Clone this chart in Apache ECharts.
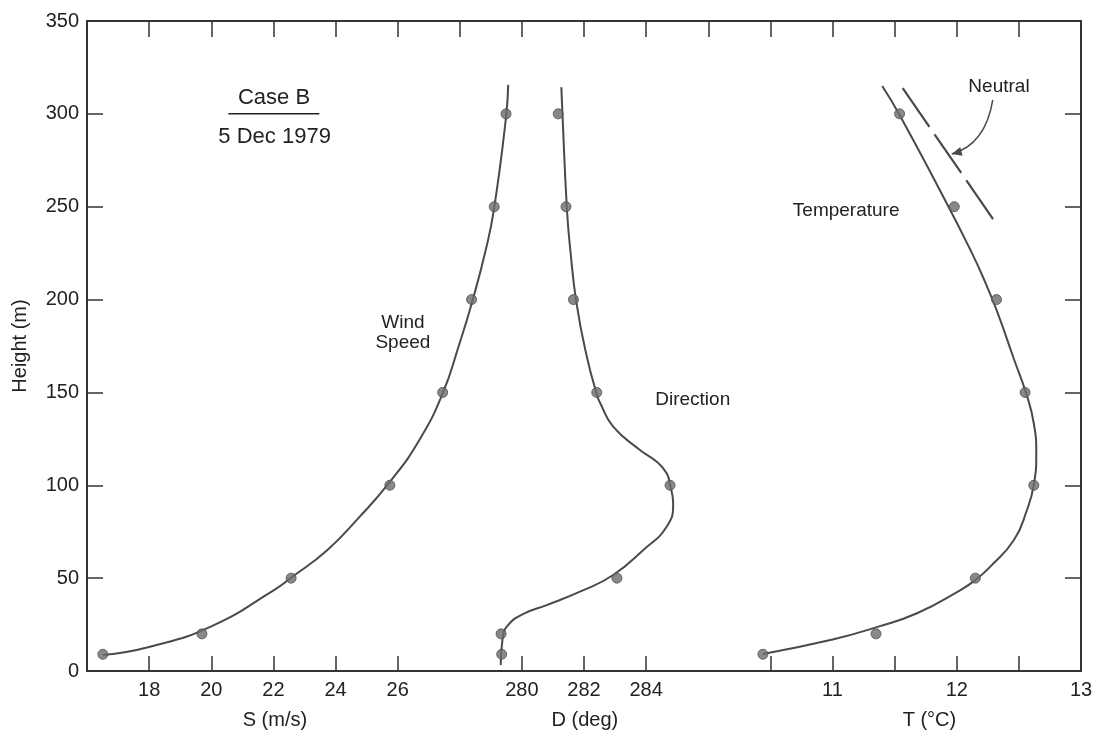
<!DOCTYPE html>
<html>
<head>
<meta charset="utf-8">
<title>Case B profiles</title>
<script src="https://cdn.jsdelivr.net/npm/echarts@6/dist/echarts.min.js"></script>
<style>
  html, body { margin: 0; padding: 0; background: #fff; }
  #chart { width: 1097px; height: 737px; }
</style>
</head>
<body>
<div id="chart"></div>
<script>
// Observation heights (m)
const heights = [9, 20, 50, 100, 150, 200, 250, 300];
// Observed wind speed S (m/s), wind direction D (deg) and temperature T (°C)
const speedObs = [16.51, 19.70, 22.57, 25.75, 27.45, 28.38, 29.11, 29.49];
const dirObs = [279.35, 279.33, 283.06, 284.77, 282.41, 281.66, 281.42, 281.17];
const tempObs = [10.44, 11.35, 12.15, 12.62, 12.55, 12.32, 11.98, 11.54];

// Fitted profiles traced as (value, height) pairs
const speedFitH = [8.6, 13.1, 24.2, 43.6, 50.2, 65.2, 82.2, 101.8, 124.4, 149.5, 174.6, 199.4, 227.6, 249.5, 298.3, 315.6];
const speedFitS = [16.51, 18.03, 20.02, 22.02, 22.57, 23.74, 24.73, 25.75, 26.70, 27.45, 27.96, 28.41, 28.85, 29.11, 29.49, 29.56];

const dirFitH = [3.2, 17.6, 24.8, 30.7, 35.5, 42.7, 51.7, 65.2, 77.7, 90.3, 100.2, 106.5, 112.7, 119.0, 131.6, 144.3, 149.2, 169.3, 198.0, 226.7, 248.8, 298.5, 314.3];
const dirFitD = [279.32, 279.38, 279.56, 280.05, 280.80, 281.87, 282.94, 283.91, 284.66, 284.87, 284.77, 284.66, 284.34, 283.80, 282.94, 282.52, 282.41, 282.09, 281.76, 281.56, 281.45, 281.31, 281.27];

const tempFitH = [9.2, 17.1, 23.5, 31.1, 43.6, 49.0, 56.2, 70.5, 86.7, 100.2, 117.0, 133.4, 149.2, 168.0, 194.4, 212.3, 226.7, 249.2, 299.4, 315.0];
const tempFitT = [10.44, 11.01, 11.35, 11.68, 12.03, 12.15, 12.27, 12.46, 12.565, 12.62, 12.64, 12.62, 12.56, 12.46, 12.32, 12.21, 12.11, 11.94, 11.54, 11.40];

// Neutral (adiabatic) reference lapse line
const neutralT = [11.565, 12.294];
const neutralH = [313.8, 243.2];

// Tick marks and labels of the three bottom scales
const speedTicks = [18, 20, 22, 24, 26];
const speedLabels = [18, 20, 22, 24, 26];
const dirTicks = [280, 282, 284];
const dirLabels = [280, 282, 284];
const tempTicks = [10.5, 11, 11.5, 12, 12.5];
const tempLabels = [11, 12, 13];

const FONT = '"Liberation Sans", Arial, Helvetica, sans-serif';
const INK = '#222';
const FRAME = '#333';
const CURVE = '#4a4a4a';
const DOT = '#6c6c6c';

const pairs = (xs, hs) => xs.map((v, i) => [v, hs[i]]);

function bottomAxis(min, max, ticks, labels, showLine) {
  return {
    type: 'value', position: 'bottom', min: min, max: max,
    axisLine: { show: showLine, onZero: false, lineStyle: { color: FRAME, width: 2 } },
    axisTick: { show: true, inside: true, length: 15, customValues: ticks,
                lineStyle: { color: FRAME, width: 1.5 } },
    axisLabel: { show: true, customValues: labels, margin: 9, color: INK,
                 fontFamily: FONT, fontSize: 20 },
    splitLine: { show: false }
  };
}

const lineSeries = (axis, data) => ({
  type: 'line', xAxisIndex: axis, yAxisIndex: 0, data: data,
  showSymbol: false, smooth: 0.5, silent: true, z: 2,
  lineStyle: { color: CURVE, width: 2 }
});

const dotSeries = (axis, data) => ({
  type: 'scatter', xAxisIndex: axis, yAxisIndex: 0, data: data,
  symbol: 'circle', symbolSize: 10, silent: true, z: 3,
  itemStyle: { color: DOT, borderColor: '#4f4f4f', borderWidth: 1 }
});

const chart = echarts.init(document.getElementById('chart'));

chart.setOption({
  animation: false,
  backgroundColor: '#fff',
  grid: { left: 87, right: 16, top: 21, bottom: 66, containLabel: false },
  xAxis: [
    // wind speed scale (two units per tick step)
    bottomAxis(16, 48, speedTicks, speedLabels, true),
    // direction scale
    bottomAxis(266, 298, dirTicks, dirLabels, false),
    // temperature scale
    bottomAxis(5, 13, tempTicks, tempLabels, false),
    // top frame with evenly spaced ticks
    {
      type: 'value', position: 'top', min: 0, max: 16, interval: 1,
      axisLine: { show: true, onZero: false, lineStyle: { color: FRAME, width: 2 } },
      axisTick: { show: true, inside: true, length: 16, lineStyle: { color: FRAME, width: 1.5 } },
      axisLabel: { show: false }, splitLine: { show: false }
    }
  ],
  yAxis: [
    {
      type: 'value', position: 'left', min: 0, max: 350, interval: 50,
      name: 'Height (m)', nameLocation: 'middle', nameGap: 57, nameRotate: 90,
      nameTextStyle: { color: INK, fontFamily: FONT, fontSize: 20 },
      axisLine: { show: true, onZero: false, lineStyle: { color: FRAME, width: 2 } },
      axisTick: { show: true, inside: true, length: 16, lineStyle: { color: FRAME, width: 1.5 } },
      axisLabel: { margin: 8, color: INK, fontFamily: FONT, fontSize: 20 },
      splitLine: { show: false }
    },
    {
      type: 'value', position: 'right', min: 0, max: 350, interval: 50,
      axisLine: { show: true, onZero: false, lineStyle: { color: FRAME, width: 2 } },
      axisTick: { show: true, inside: true, length: 16, lineStyle: { color: FRAME, width: 1.5 } },
      axisLabel: { show: false }, splitLine: { show: false }
    }
  ],
  series: [
    lineSeries(0, pairs(speedFitS, speedFitH)),
    dotSeries(0, pairs(speedObs, heights)),
    lineSeries(1, pairs(dirFitD, dirFitH)),
    dotSeries(1, pairs(dirObs, heights)),
    lineSeries(2, pairs(tempFitT, tempFitH)),
    dotSeries(2, pairs(tempObs, heights)),
    {
      type: 'line', xAxisIndex: 2, yAxisIndex: 0, data: pairs(neutralT, neutralH),
      showSymbol: false, silent: true, z: 2,
      lineStyle: { color: CURVE, width: 2.2, type: [47, 9] }
    }
  ]
});

// Annotations placed in data space of the given bottom scale
const px = (axis, v, h) => chart.convertToPixel({ xAxisIndex: axis, yAxisIndex: 0 }, [v, h]);
const baseY = px(0, 16, 0)[1];

function label(text, p, size) {
  return {
    type: 'text', x: p[0], y: p[1], silent: true,
    style: { text: text, fill: INK, font: size + 'px ' + FONT, lineHeight: 20,
             textAlign: 'center', textVerticalAlign: 'middle' }
  };
}

const rule0 = px(0, 20.55, 300), rule1 = px(0, 23.48, 300);
const aStart = px(2, 12.29, 307.5), aCtrl = px(2, 12.23, 283.3), aEnd = px(2, 11.96, 278.4);
const dx = aEnd[0] - aCtrl[0], dy = aEnd[1] - aCtrl[1];
const dl = Math.hypot(dx, dy), ux = dx / dl, uy = dy / dl;
const headLen = 10, headHalf = 4.5;
const head = [
  [aEnd[0], aEnd[1]],
  [aEnd[0] - ux * headLen - uy * headHalf, aEnd[1] - uy * headLen + ux * headHalf],
  [aEnd[0] - ux * headLen + uy * headHalf, aEnd[1] - uy * headLen - ux * headHalf]
];

chart.setOption({
  graphic: [
    label('Case B', px(0, 22.02, 308.6), 22),
    { type: 'line', silent: true,
      shape: { x1: rule0[0], y1: rule0[1], x2: rule1[0], y2: rule1[1] },
      style: { stroke: INK, lineWidth: 1.5 } },
    label('5 Dec 1979', px(0, 22.04, 287.4), 22),
    label('Wind\nSpeed', px(0, 26.17, 182), 19),
    label('Direction', px(1, 285.5, 145.9), 19),
    label('Temperature', px(2, 11.11, 247.7), 19),
    label('Neutral', px(2, 12.34, 314.5), 19),
    { type: 'bezierCurve', silent: true,
      shape: { x1: aStart[0], y1: aStart[1], cpx1: aCtrl[0], cpy1: aCtrl[1], x2: aEnd[0], y2: aEnd[1] },
      style: { stroke: CURVE, lineWidth: 1.5, fill: null } },
    { type: 'polygon', silent: true, shape: { points: head }, style: { fill: CURVE } },
    label('S (m/s)', [px(0, 22.05, 0)[0], baseY + 49], 20),
    label('D (deg)', [px(1, 282.03, 0)[0], baseY + 49], 20),
    label('T (°C)', [px(2, 11.78, 0)[0], baseY + 49], 20)
  ]
});
</script>
</body>
</html>
